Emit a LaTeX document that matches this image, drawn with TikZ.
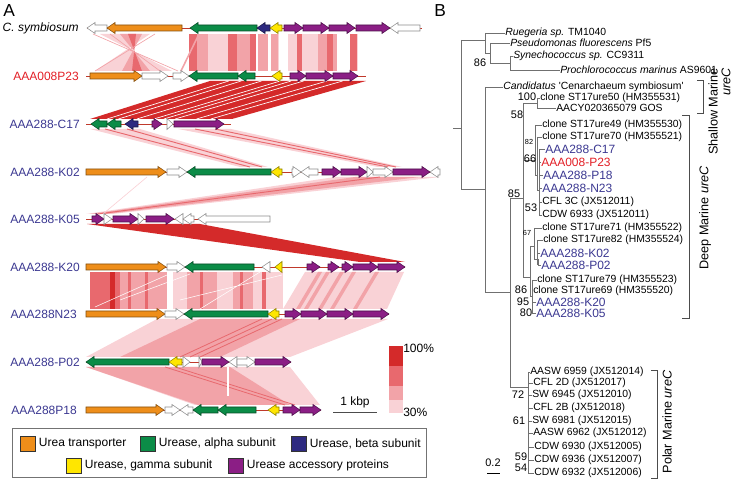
\documentclass[tikz,border=0pt]{standalone}
\usepackage{fontspec}
\setmainfont{Liberation Sans}
\usetikzlibrary{positioning}
\definecolor{GeneOrange}{HTML}{EE8E1A}
\definecolor{GeneGreen}{HTML}{0B8C47}
\definecolor{GeneBlue}{HTML}{2E2A80}
\definecolor{GeneYellow}{HTML}{FFE600}
\definecolor{GenePurple}{HTML}{8B1E85}
\definecolor{LabelBlue}{HTML}{3B3891}
\definecolor{LabelRed}{HTML}{E21F26}
\definecolor{SpineRed}{HTML}{C0392B}
\definecolor{IdA}{HTML}{D42A2A}
\definecolor{IdB}{HTML}{E8696E}
\definecolor{IdC}{HTML}{F2A3A8}
\definecolor{IdD}{HTML}{F9D2D6}
\definecolor{TreeGray}{HTML}{707070}
% gene arrow: colour, start, end, y, direction (1 = rightwards)
\newcommand{\gene}[5]{%
  \pgfmathsetmacro{\gh}{min(8,#3-#2)}%
  \ifnum#5=1\relax
    \filldraw[genebox,fill=#1,draw=#1!55!black] (#2,#4-3) -- ({#3-\gh},#4-3) -- ({#3-\gh},#4-5.5)
      -- (#3,#4) -- ({#3-\gh},#4+5.5) -- ({#3-\gh},#4+3) -- (#2,#4+3) -- cycle;
  \else
    \filldraw[genebox,fill=#1,draw=#1!55!black] (#3,#4-3) -- ({#2+\gh},#4-3) -- ({#2+\gh},#4-5.5)
      -- (#2,#4) -- ({#2+\gh},#4+5.5) -- ({#2+\gh},#4+3) -- (#3,#4+3) -- cycle;
  \fi}

\begin{document}
\begin{tikzpicture}[x=0.75pt,y=-0.75pt,
  genebox/.style={line width=0.4pt,line join=miter},
  backbone/.style={draw=SpineRed,line width=0.6pt},
  rowlabel/.style={anchor=east,inner sep=0,font=\fontsize{9}{10}\selectfont,text=LabelBlue},
  panel/.style={inner sep=0,font=\fontsize{13}{14}\selectfont},
  branch/.style={draw=TreeGray,line width=0.6pt},
  leaf/.style={anchor=west,inner sep=0,font=\fontsize{7.8}{9}\selectfont},
  leafc/.style={anchor=west,inner sep=0,font=\fontsize{9}{10}\selectfont,text=LabelBlue},
  boot/.style={inner sep=0,font=\fontsize{8.2}{9}\selectfont},
  bootsm/.style={inner sep=0,font=\fontsize{5.5}{6}\selectfont},
  clade/.style={draw=black!70,line width=0.6pt},
  cladetext/.style={inner sep=0,rotate=90,font=\fontsize{9.5}{10}\selectfont},
  key/.style={draw=black!80,line width=0.5pt,minimum size=15*0.75pt,inner sep=0},
  keytext/.style={anchor=west,inner sep=0,font=\fontsize{9}{10}\selectfont}
]
\path[use as bounding box] (0,0) rectangle (736,484);

%% ---------------- panel A ----------------
\node[panel,anchor=north west] (lblA) at (3,4) {A};

% comparison bands
% C. symbiosum vs AAA008P23
\fill[IdD] (100,34) -- (150,34) -- (95,71) -- (172,71) -- cycle;
\fill[IdC] (120,34) -- (142,34) -- (122,71) -- (150,71) -- cycle;
\fill[IdB] (128,34) -- (136,34) -- (132,71) -- (142,71) -- cycle;
\draw[IdC,line width=0.5pt] (93,34) -- (178,71) (155,34) -- (95,71) (110,34) -- (160,71);
\fill[IdD] (189,34) rectangle (358,71);
\foreach \a/\b/\c in {189/197/IdB,197/208/IdC,228/237/IdB,237/250/IdC,250/256/IdB,
  256/258/white,258/268/IdC,268/271/white,271/278/IdC,279/288/white,297/302/IdB,
  318/327/IdC,327/333/IdB,333/337/IdC,337/350/white,350/357/IdB}
  \fill[\c] (\a,34) rectangle (\b,71);
\draw[IdC,line width=1.2pt] (198,36) -- (181,71);
% AAA008P23 vs AAA288-C17
\fill[IdA] (210,81) -- (366,81) -- (232,119) -- (90,119) -- cycle;
\foreach \t in {0.12,0.2,0.33,0.45,0.52,0.6,0.75,0.85}
  \draw[white,line width=0.5pt] ({210+156*\t},81) -- ({90+142*\t},119);
% AAA288-C17 vs AAA288-K02
\fill[IdD] (90,129) -- (140,129) -- (268,167) -- (240,167) -- cycle;
\draw[IdB,line width=0.7pt] (105,129) -- (250,167) (127,129) -- (262,167);
\fill[IdD] (178,129) -- (231,129) -- (402,167) -- (378,167) -- cycle;
\draw[IdB,line width=0.7pt] (195,129) -- (388,167) (215,129) -- (396,167);
% AAA288-K02 vs AAA288-K05
\fill[IdD] (335,177) -- (440,177) -- (112,214) -- (86,214) -- cycle;
\fill[IdC] (355,177) -- (420,177) -- (106,214) -- (90,214) -- cycle;
\draw[IdB,line width=0.7pt] (380,177) -- (98,214);
\draw[IdD,line width=0.5pt] (147,177) -- (103,214);
% AAA288-K05 vs AAA288-K20
\fill[IdA] (87,224) -- (200,224) -- (405,262) -- (360,262) -- cycle;
% AAA288-K20 vs AAA288N23
\fill[IdD] (90,272) rectangle (283,309);
\fill[IdC] (90,272) rectangle (167,309);
\foreach \a/\b/\c in {90/110/IdB,110/115/IdA,115/120/IdB,128/131/IdB,145/148/IdB,
  167/173/white,187/217/IdC,200/203/IdB,233/253/IdC,240/243/IdB,262/266/IdB}
  \fill[\c] (\a,272) rectangle (\b,309);
\draw[white,line width=0.4pt] (95,307) -- (167,275) (120,300) -- (190,274) (180,300) -- (282,275)
  (200,309) -- (260,272);
\fill[IdD] (305,272) -- (404,272) -- (387,309) -- (283,309) -- cycle;
\foreach \s in {318,326,340,352,375}
  \fill[IdC] (\s,272) -- ({\s+4},272) -- ({\s-18},309) -- ({\s-22},309) -- cycle;
% AAA288N23 vs AAA288-P02
\fill[IdD] (157,319) -- (388,319) -- (290,357) -- (86,357) -- cycle;
\fill[IdC] (200,319) -- (300,319) -- (220,357) -- (120,357) -- cycle;
\draw[IdB,line width=0.6pt] (262,319) -- (180,357) (272,319) -- (190,357) (282,319) -- (200,357);
% AAA288-P02 vs AAA288P18
\fill[IdD] (86,367) -- (290,367) -- (320,405) -- (195,405) -- cycle;
\fill[IdC] (86,367) -- (230,367) -- (290,405) -- (198,405) -- cycle;
\draw[IdB,line width=0.6pt] (165,367) -- (285,405) (175,367) -- (295,405);
\draw[white,line width=0.8pt] (228,367) -- (228,396);

% backbones
\draw[backbone] (87,28) -- (422,28);
\draw[backbone] (86,76) -- (366,76);
\draw[backbone] (86,124) -- (231,124);
\draw[backbone] (86,172) -- (440,172);
\draw[backbone] (86,219) -- (270,219);
\draw[backbone] (86,267) -- (405,267);
\draw[backbone] (86,314) -- (389,314);
\draw[backbone] (86,362) -- (291,362);
\draw[backbone] (86,410) -- (321,410);

% genes
\foreach \c/\a/\b/\d in {white/87/107/0,GeneOrange/107/182/0,GeneGreen/190/257/0,GeneBlue/257/270/0,
  GeneYellow/270/282/0,GenePurple/284/303/1,GenePurple/303/329/1,GenePurple/329/355/1,
  GenePurple/356/390/1,white/390/420/0}
  {\gene{\c}{\a}{\b}{28}{\d}}
\foreach \c/\a/\b/\d in {GeneOrange/90/142/1,white/142/168/1,white/173/189/1,GeneGreen/189/238/0,
  GeneGreen/238/255/0,GeneYellow/272/282/0,GenePurple/290/306/1,GenePurple/306/333/1,GenePurple/333/358/1}
  {\gene{\c}{\a}{\b}{76}{\d}}
\foreach \c/\a/\b/\d in {GeneGreen/91/107/0,GeneGreen/107/121/0,GeneBlue/125/138/0,GenePurple/152/162/1,
  white/167/173/1,GenePurple/174/224/1}
  {\gene{\c}{\a}{\b}{124}{\d}}
\foreach \c/\a/\b/\d in {GeneOrange/86/166/1,white/167/187/1,GeneGreen/187/271/0,GeneYellow/271/282/0,
  white/292/301/1,white/301/318/0,GenePurple/322/341/1,GenePurple/341/367/1,white/367/373/1,
  white/373/393/1,GenePurple/393/430/1,white/430/440/0}
  {\gene{\c}{\a}{\b}{172}{\d}}
\foreach \c/\a/\b/\d in {GenePurple/92/104/1,white/104/112/1,GenePurple/113/138/1,white/138/144/1,
  GenePurple/146/174/1,white/175/183/0,white/183/194/0,white/198/270/0}
  {\gene{\c}{\a}{\b}{219}{\d}}
\foreach \c/\a/\b/\d in {GeneOrange/86/166/1,white/167/185/1,GeneGreen/185/254/0,white/262/270/0,
  GeneYellow/275/282/0,GenePurple/307/320/1,GenePurple/328/339/1,GenePurple/342/353/1,
  GenePurple/353/378/1,GenePurple/378/405/1}
  {\gene{\c}{\a}{\b}{267}{\d}}
\foreach \c/\a/\b/\d in {GeneOrange/86/165/1,white/165/184/1,GeneGreen/184/268/0,GeneYellow/268/279/0,
  GenePurple/285/301/1,GenePurple/301/327/1,GenePurple/327/353/1,GenePurple/353/389/1}
  {\gene{\c}{\a}{\b}{314}{\d}}
\foreach \c/\a/\b/\d in {GeneGreen/86/169/0,GeneYellow/169/182/0,white/183/190/1,white/199/202/1,
  GenePurple/202/229/1,white/229/237/0,white/237/255/1,GenePurple/255/291/1}
  {\gene{\c}{\a}{\b}{362}{\d}}
\foreach \c/\a/\b/\d in {GeneOrange/86/164/1,white/165/180/1,white/180/193/0,GeneGreen/193/218/0,
  GeneGreen/218/256/0,GeneYellow/268/279/0,GenePurple/283/300/1,GenePurple/300/321/1}
  {\gene{\c}{\a}{\b}{410}{\d}}

% row labels
\node[rowlabel,text=black] (csym) at (79,28) {\textit{C. symbiosum}};
\node[rowlabel,text=LabelRed] (rP23) at (79,76) {AAA008P23};
\node[rowlabel] (rC17) at (80,124) {AAA288-C17};
\node[rowlabel] (rK02) at (80,172) {AAA288-K02};
\node[rowlabel] (rK05) at (80,219) {AAA288-K05};
\node[rowlabel] (rK20) at (80,267) {AAA288-K20};
\node[rowlabel] (rN23) at (77,314) {AAA288N23};
\node[rowlabel] (rP02) at (80,362) {AAA288-P02};
\node[rowlabel] (rP18) at (77,410) {AAA288P18};

% identity scale and size bar
\foreach \a/\b/\c in {346/366/IdA,366/386/IdB,386/400/IdC,400/413/IdD}
  \fill[\c] (389,\a) rectangle (403,\b);
\node[keytext] (pct100) at (403,348) {100\%};
\node[keytext] (pct30) at (403,412) {30\%};
\node[keytext,anchor=south] (kbp) at (355,408) {1 kbp};
\draw[black!70,line width=0.6pt] (333,412) -- (377,412);

% legend
\draw[black!55,line width=0.7pt] (12,428) rectangle (426,477);
\node[key,fill=GeneOrange,anchor=north west] (kOr) at (20,436) {};
\node[keytext,right=3*0.75pt of kOr] {Urea transporter};
\node[key,fill=GeneGreen,anchor=north west] (kGr) at (140,436) {};
\node[keytext,right=3*0.75pt of kGr] {Urease, alpha subunit};
\node[key,fill=GeneBlue,anchor=north west] (kBl) at (291,436) {};
\node[keytext,right=3*0.75pt of kBl] {Urease, beta subunit};
\node[key,fill=GeneYellow,anchor=north west] (kYe) at (66,458) {};
\node[keytext,right=3*0.75pt of kYe] {Urease, gamma subunit};
\node[key,fill=GenePurple,anchor=north west] (kPu) at (228,458) {};
\node[keytext,right=3*0.75pt of kPu] {Urease accessory proteins};

%% ---------------- panel B ----------------
\node[panel,anchor=north west] (lblB) at (434,4) {B};

\node[leaf] (ru) at (505,33) {\textit{Ruegeria sp.} TM1040};
\node[leaf] (ps) at (510,43) {\textit{Pseudomonas fluorescens} Pf5};
\node[leaf] (sy) at (513,56) {\textit{Synechococcus sp.} CC9311};
\node[leaf] (pr) at (560,70) {\textit{Prochlorococcus marinus} AS9601};
\node[leaf] (ca) at (503,87) {\textit{Candidatus} \textquotesingle Cenarchaeum symbiosum\textquotesingle};
\node[leaf] (c50) at (540,98) {clone ST17ure50 (HM355531)};
\node[leaf] (aacy) at (556,108) {AACY020365079 GOS};
\node[leaf] (c49) at (542,125) {clone ST17ure49 (HM355530)};
\node[leaf] (c70) at (542,137) {clone ST17ure70 (HM355521)};
\node[leafc] (tC17) at (545,149) {AAA288-C17};
\node[leafc,text=LabelRed] (tP23) at (541,162) {AAA008-P23};
\node[leafc] (tP18) at (543,175) {AAA288-P18};
\node[leafc] (tN23) at (542,188) {AAA288-N23};
\node[leaf] (cfl3c) at (542,202) {CFL 3C (JX512011)};
\node[leaf] (cdw33) at (542,215) {CDW 6933 (JX512011)};
\node[leaf] (c71) at (542,228) {clone ST17ure71 (HM355522)};
\node[leaf] (c82) at (543,240) {clone ST17ure82 (HM355524)};
\node[leafc] (tK02) at (540,253) {AAA288-K02};
\node[leafc] (tP02) at (541,265) {AAA288-P02};
\node[leaf] (c79) at (537,280) {clone ST17ure79 (HM355523)};
\node[leaf] (c69) at (533,291) {clone ST17ure69 (HM355520)};
\node[leafc] (tK20) at (536,302) {AAA288-K20};
\node[leafc] (tK05) at (536,313) {AAA288-K05};
\node[leaf] (p1) at (530,372) {AASW 6959 (JX512014)};
\node[leaf] (p2) at (533,383) {CFL 2D (JX512017)};
\node[leaf] (p3) at (532,395) {SW 6945 (JX512010)};
\node[leaf] (p4) at (533,408) {CFL 2B (JX512018)};
\node[leaf] (p5) at (532,421) {SW 6981 (JX512015)};
\node[leaf] (p6) at (533,433) {AASW 6962 (JX512012)};
\node[leaf] (p7) at (534,447) {CDW 6930 (JX512005)};
\node[leaf] (p8) at (534,460) {CDW 6936 (JX512007)};
\node[leaf] (p9) at (534,473) {CDW 6932 (JX512006)};

% branches
\draw[branch] (453,128) -- (461,128) (461,40) -- (461,189);
\draw[branch] (461,40) -- (485,40) (485,33) -- (485,53) (485,33) -- (ru.west)
  (485,53) -- (490,53) (490,43) -- (490,63) (490,43) -- (ps.west)
  (490,63) -- (510,63) (510,56) -- (510,70) (510,56) -- (sy.west) (510,70) -- (pr.west);
\draw[branch] (461,189) -- (485,189) (485,87) -- (485,292) (485,87) -- (ca.west)
  (485,292) -- (510,292) (510,198) -- (510,387);
\draw[branch] (510,198) -- (523,198) (523,103) -- (523,277) (523,103) -- (537,103)
  (537,98) -- (537,108) (537,98) -- (c50.west) (537,108) -- (aacy.west);
\draw[branch] (523,160) -- (535,160) (535,125) -- (535,175) (535,125) -- (c49.west)
  (535,175) -- (537,175) (537,137) -- (537,190) (537,137) -- (c70.west)
  (537,190) -- (539,190) (539,149) -- (539,215)
  (539,149) -- (tC17.west) (539,162) -- (tP23.west) (539,175) -- (tP18.west)
  (539,188) -- (tN23.west) (539,202) -- (cfl3c.west) (539,215) -- (cdw33.west);
\draw[branch] (523,277) -- (530,277) (530,246) -- (530,296)
  (530,246) -- (534,246) (534,228) -- (534,259) (534,228) -- (c71.west)
  (534,259) -- (537,259) (537,240) -- (537,265) (537,240) -- (c82.west)
  (537,253) -- (538,253) (538,253) -- (tK02.west) (538,259) -- (538,265) (538,265) -- (tP02.west)
  (530,296) -- (532,296) (532,280) -- (532,313) (532,280) -- (c79.west) (532,291) -- (c69.west)
  (532,302) -- (tK20.west) (532,313) -- (tK05.west);
\draw[branch] (510,387) -- (528,387) (528,372) -- (528,473) (528,372) -- (p1.west)
  \foreach \n in {p2,p3,p4,p5,p6,p7,p8,p9} {(528,0 |- \n.west) -- (\n.west)};

% support values
\node[boot] at (480,63) {86};
\node[boot] at (527,97) {100};
\node[boot] at (517,115) {58};
\node[bootsm] at (529,142) {82};
\node[boot] at (530,159) {66};
\node[boot] at (514,194) {85};
\node[boot] at (531,208) {53};
\node[bootsm] at (527,233) {67};
\node[boot] at (521,290) {86};
\node[boot] at (523,302) {95};
\node[boot] at (526,313) {80};
\node[boot] at (518,395) {72};
\node[boot] at (519,421) {61};
\node[boot] at (521,457) {59};
\node[boot] at (521,468) {54};

% scale bar
\node[boot] (scl) at (493,463) {0.2};
\draw[black,line width=0.5pt] (487,473) -- (500,473);

% clade brackets
\draw[clade] (697,80) -- (703,80) -- (703,113) -- (697,113);
\node[cladetext,anchor=east] (shA) at (713,68) {Shallow Marine};
\node[cladetext,anchor=east] (shB) at (726,68) {\textit{ureC}};
\draw[clade] (682,115) -- (689,115) -- (689,318) -- (682,318);
\node[cladetext] (deep) at (705,218) {Deep Marine \textit{ureC}};
\draw[clade] (651,370) -- (657,370) -- (657,478) -- (651,478);
\node[cladetext] (polar) at (667,422) {Polar Marine \textit{ureC}};
\end{tikzpicture}
\end{document}
